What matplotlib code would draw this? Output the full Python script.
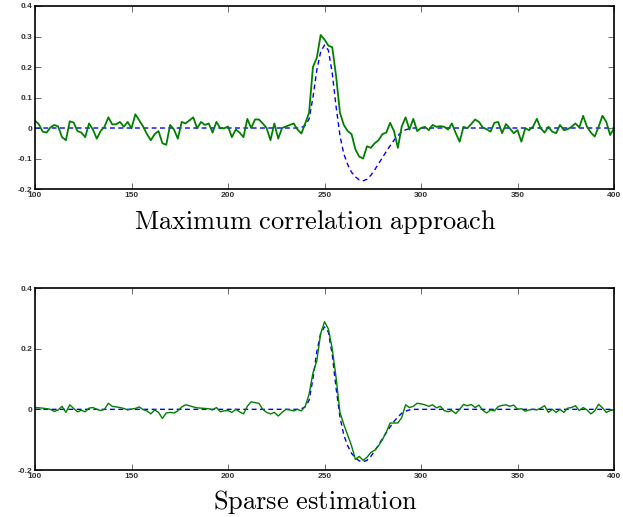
import numpy as np
import matplotlib
matplotlib.use("Agg")
import matplotlib.pyplot as plt
from matplotlib.ticker import FormatStrFormatter

# sample grid for the estimated signals (every 2 samples, 100..400)
sample_x = np.arange(100, 401, 2)

# maximum correlation estimate (green, top panel)
maxcorr_est = [
    0.024, 0.012, -0.012, -0.015, 0.002, 0.01, 0.005, -0.03, -0.04, 0.022,
    0.018, -0.01, -0.015, -0.03, 0.015, -0.005, -0.035, -0.01, 0.004, 0.035,
    0.012, 0.012, 0.02, 0.004, 0.02, -0.001, 0.045, 0.025, 0.005, -0.02,
    -0.04, -0.02, -0.01, -0.05, -0.055, 0.01, -0.005, -0.035, 0.02, 0.015,
    0.025, 0.035, -0.001, 0.02, 0.01, 0.015, -0.015, 0.02, -0.001, -0.001,
    0.005, -0.03, -0.005, -0.015, -0.03, 0.03, 0.0, 0.028, 0.028, 0.015,
    0.0, -0.04, 0.015, -0.035, 0.0, 0.005, 0.01, 0.015, -0.005, -0.018,
    0.015, 0.05,
    0.2, 0.23, 0.305, 0.29, 0.27, 0.265, 0.17, 0.05, 0.01, -0.01,
    -0.02, -0.07, -0.094, -0.1, -0.06, -0.065, -0.05, -0.04, -0.02, -0.015,
    0.017, -0.01, -0.065, 0.005, 0.035, -0.005, 0.03, -0.01,
    0.0, 0.004, -0.007, 0.01, 0.004, 0.006, 0.004, -0.005, 0.015, -0.017,
    -0.045, 0.004, -0.001, 0.013, 0.028, 0.02, 0.002, -0.004, -0.012, 0.017,
    0.02, -0.017, 0.013, -0.001, -0.017, -0.007, -0.045, -0.001, -0.007, 0.004,
    0.03, -0.001, -0.015, 0.004, -0.012, -0.017, 0.01, -0.007, -0.004, 0.004,
    0.015, 0.002, 0.04, 0.004, -0.015, -0.028, 0.004, 0.04, 0.02, -0.023,
    -0.001,
]

# sparse estimate (green, bottom panel)
sparse_est = [
    0.006, 0.005, 0.004, 0.002, 0.0, -0.007, -0.002, 0.01, -0.01, 0.015,
    0.003, -0.008, -0.003, -0.008, 0.004, 0.006, 0.0, -0.004, 0.0, 0.02,
    0.01, 0.008, 0.006, 0.003, -0.002, 0.001, 0.003, 0.008, -0.001, -0.005,
    -0.015, -0.002, -0.01, -0.03, -0.012, -0.01, -0.012, -0.005, 0.008, 0.015,
    0.012, 0.008, 0.005, 0.004, 0.003, 0.002, -0.002, 0.006, -0.008, -0.005,
    -0.004, -0.01, 0.0, -0.008, -0.015, 0.01, 0.025, 0.022, 0.02, 0.0,
    -0.01, -0.015, -0.01, -0.022, -0.01, 0.0, -0.002, -0.005, 0.0, -0.005,
    0.01, 0.05,
    0.12, 0.16, 0.25, 0.289, 0.265, 0.2, 0.104, -0.01, -0.05, -0.085,
    -0.12, -0.165, -0.155, -0.168, -0.158, -0.142, -0.135, -0.12, -0.1, -0.075,
    -0.045, -0.045, -0.045, -0.027, 0.015, 0.006, 0.01, 0.02,
    0.018, 0.015, 0.01, 0.015, 0.005, 0.01, -0.004, -0.008, -0.004, -0.014,
    0.0, 0.016, 0.012, 0.016, 0.006, 0.014, -0.003, -0.012, -0.002, -0.005,
    0.009, 0.013, 0.015, 0.01, 0.014, 0.0, 0.002, -0.006, -0.002, 0.0,
    -0.002, 0.004, 0.012, -0.01, 0.0, -0.01, 0.0, -0.01, 0.004, 0.006,
    0.012, -0.004, 0.006, -0.002, -0.015, -0.005, 0.017, 0.005, -0.01, -0.004,
    -0.002,
]

# true signal (blue dashed, both panels)
true_x = [100, 236, 238, 240, 242, 244, 246, 248, 250, 252, 254, 256, 258,
          260, 262, 264, 266, 268, 270, 272, 274, 276, 278, 280, 282, 284,
          286, 288, 290, 292, 294, 296, 400]
true_sig = [0.0, 0.0, 0.002, 0.008, 0.03, 0.1, 0.19, 0.25, 0.272, 0.255, 0.18,
            0.07, -0.025, -0.085, -0.12, -0.145, -0.16, -0.17, -0.173, -0.168,
            -0.155, -0.137, -0.117, -0.097, -0.077, -0.058, -0.04, -0.025,
            -0.013, -0.006, -0.002, 0.0, 0.0]

titles = ["Maximum correlation approach", "Sparse estimation"]
x_ticks = [100, 150, 200, 250, 300, 350, 400]
y_ticks_top = [-0.2, -0.1, 0, 0.1, 0.2, 0.3, 0.4]
y_ticks_bottom = [-0.2, 0, 0.2, 0.4]

plt.rcParams['mathtext.fontset'] = 'cm'

fig = plt.figure(figsize=(6.23, 5.17), dpi=100)
ax1 = fig.add_axes([0.0562, 0.6344, 0.9294, 0.354])
ax2 = fig.add_axes([0.0562, 0.0909, 0.9294, 0.352])

panels = [(ax1, maxcorr_est, y_ticks_top, 1.3), (ax2, sparse_est, y_ticks_bottom, 1.0)]
for ax, est, yt, lw in panels:
    ax.plot(true_x, true_sig, '--', color='#0000ff', lw=1.0, dashes=(3.5, 2.5))
    ax.plot(sample_x, est, '-', color='#008000', lw=lw)
    ax.set_xlim(100, 400)
    ax.set_ylim(-0.2, 0.4)
    ax.set_xticks(x_ticks)
    ax.set_yticks(yt)
    ax.xaxis.set_major_formatter(FormatStrFormatter('%g'))
    ax.yaxis.set_major_formatter(FormatStrFormatter('%g'))
    ax.tick_params(direction='in', top=True, right=True, length=4, width=0.6,
                   labelsize=6, pad=2, color='#555555')
    for lab in ax.get_xticklabels() + ax.get_yticklabels():
        lab.set_family('Liberation Sans')
        lab.set_weight('bold')
        lab.set_color('#333333')
    for sp in ax.spines.values():
        sp.set_linewidth(1.2)

fig.text(0.506, 0.571, r'$\mathrm{Maximum\ correlation\ approach}$',
         ha='center', va='center', fontsize=19)
fig.text(0.506, 0.029, r'$\mathrm{Sparse\ estimation}$',
         ha='center', va='center', fontsize=19)

fig.savefig('out.png', dpi=100)
